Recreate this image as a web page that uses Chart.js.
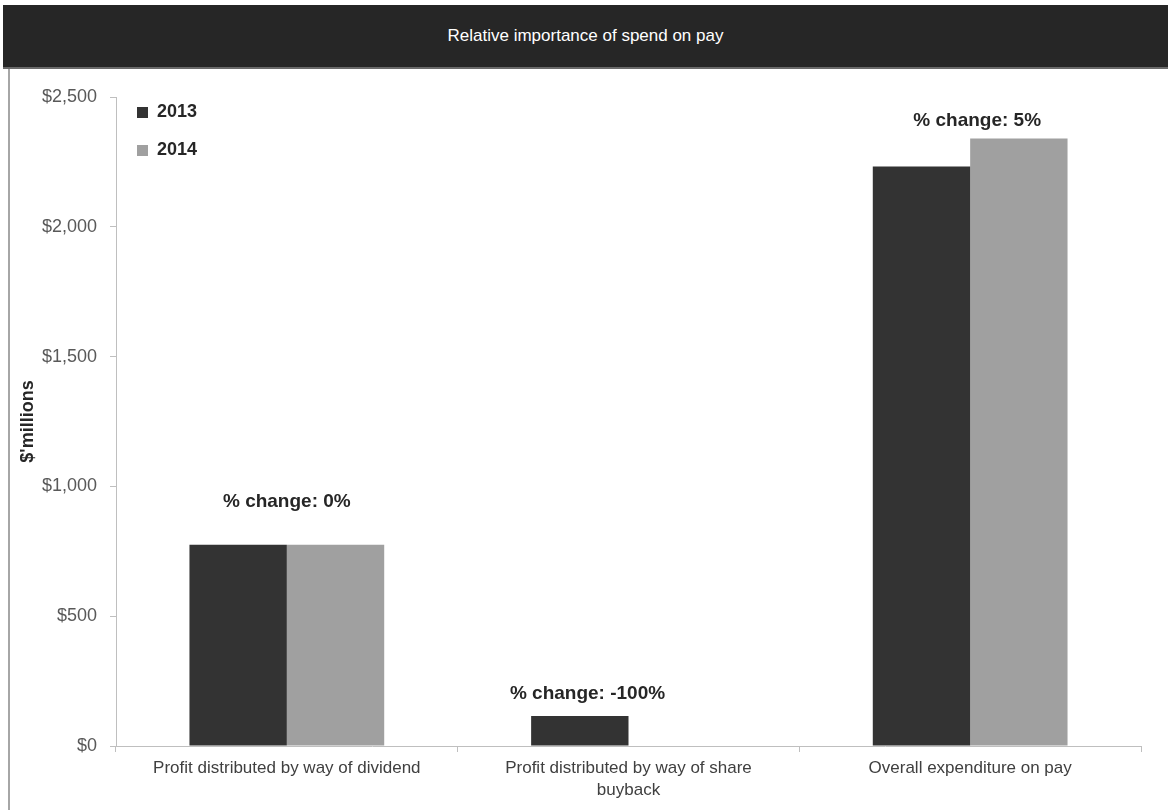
<!DOCTYPE html>
<html>
<head>
<meta charset="utf-8">
<script src="https://cdn.jsdelivr.net/npm/chart.js@4.4.0/dist/chart.umd.min.js"></script>
<style>
  html, body { margin: 0; padding: 0; background: #ffffff; width: 1168px; height: 810px; overflow: hidden; }
  #titlebar {
    position: absolute; left: 3px; top: 5px; width: 1165px; height: 62px;
    background: #262626; border-bottom: 2px solid #6a6a6a;
    color: #ffffff; font-family: "Liberation Sans", Arial, sans-serif; font-size: 17px;
    display: flex; align-items: center; justify-content: center;
  }
  #wrap {
    position: absolute; left: 8px; top: 69px; width: 1158px; height: 741px;
    border-left: 2px solid #a6a6a6;
  }
  canvas { display: block; }
</style>
</head>
<body>
<div id="titlebar">Relative importance of spend on pay</div>
<div id="wrap"><canvas id="c" width="1158" height="741"></canvas></div>
<script>
const categories = [
  'Profit distributed by way of dividend',
  ['Profit distributed by way of share', 'buyback'],
  'Overall expenditure on pay'
];
const seriesNames = ['2013', '2014'];
const values2013 = [775, 116, 2232];
const values2014 = [775, 0, 2340];
const changeLabels = ['% change: 0%', '% change: -100%', '% change: 5%'];
const yTicks = [0, 500, 1000, 1500, 2000, 2500];

const FONT = '"Liberation Sans", Arial, sans-serif';

const annotationPlugin = {
  id: 'changeLabels',
  afterDatasetsDraw(chart, args, opts) {
    const { ctx, scales } = chart;
    ctx.save();
    ctx.font = 'bold 19px ' + FONT;
    ctx.fillStyle = '#262626';
    ctx.textAlign = 'center';
    ctx.textBaseline = 'middle';
    changeLabels.forEach((txt, i) => {
      const top = Math.max(values2013[i], values2014[i]);
      const x = scales.x.getPixelForValue(i) + opts.dx[i];
      const y = scales.y.getPixelForValue(top) - opts.dy[i];
      ctx.fillText(txt, x, y);
    });
    ctx.restore();
  }
};

const legendPlugin = {
  id: 'insideLegend',
  afterDraw(chart) {
    const { ctx, chartArea } = chart;
    ctx.save();
    ctx.font = 'bold 18px ' + FONT;
    ctx.textBaseline = 'middle';
    ctx.textAlign = 'left';
    chart.data.datasets.forEach((ds, i) => {
      const x = chartArea.left + 21;
      const cy = chartArea.top + 15 + i * 38;
      ctx.fillStyle = ds.backgroundColor;
      ctx.fillRect(x, cy - 5, 11, 11);
      ctx.fillStyle = '#262626';
      ctx.fillText(ds.label, x + 20, cy);
    });
    ctx.restore();
  }
};

new Chart(document.getElementById('c'), {
  type: 'bar',
  data: {
    labels: categories,
    datasets: [
      { label: seriesNames[0], data: values2013, backgroundColor: '#333333', borderWidth: 0,
        barPercentage: 1.0, categoryPercentage: 0.57 },
      { label: seriesNames[1], data: values2014, backgroundColor: '#a0a0a0', borderWidth: 0,
        barPercentage: 1.0, categoryPercentage: 0.57 }
    ]
  },
  options: {
    responsive: false,
    animation: false,
    devicePixelRatio: 1,
    layout: { padding: { top: 28, right: 27, bottom: 0, left: 0 } },
    plugins: {
      legend: { display: false },
      tooltip: { enabled: false },
      title: { display: false },
      changeLabels: { dx: [0, -41, 7], dy: [43, 22, 18] }
    },
    scales: {
      x: {
        grid: { display: true, drawOnChartArea: false, drawTicks: true, tickLength: 6, color: '#bfbfbf', offset: true },
        border: { display: true, color: '#bfbfbf', width: 1 },
        ticks: { color: '#404040', font: { family: FONT, size: 17, lineHeight: 1.3 }, padding: 5, maxRotation: 0, autoSkip: false },
        afterFit(scale) { scale.height = 64; }
      },
      y: {
        min: 0, max: 2500,
        afterBuildTicks(scale) { scale.ticks = yTicks.map(v => ({ value: v })); },
        grid: { display: true, drawOnChartArea: false, drawTicks: true, tickLength: 6, color: '#bfbfbf' },
        border: { display: true, color: '#bfbfbf', width: 1 },
        ticks: {
          color: '#595959', font: { family: FONT, size: 18 }, padding: 13,
          callback: v => '$' + Number(v).toLocaleString('en-US')
        },
        title: { display: true, text: "$'millions", color: '#262626', font: { family: FONT, size: 18, weight: 'bold' }, padding: { top: 7, bottom: 0 } },
        afterFit(scale) { scale.width = 106; }
      }
    }
  },
  plugins: [annotationPlugin, legendPlugin]
});
</script>
</body>
</html>
